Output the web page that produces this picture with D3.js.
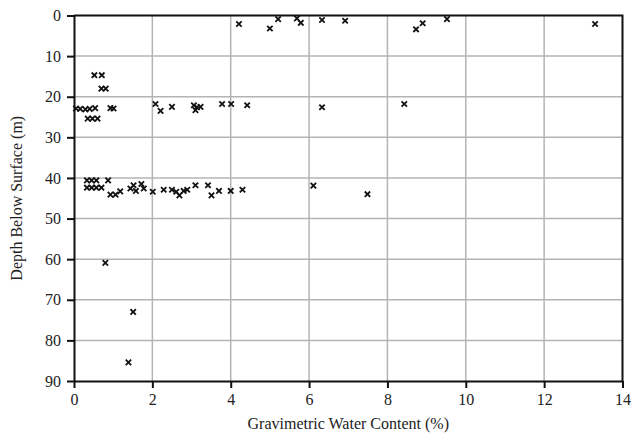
<!DOCTYPE html>
<html>
<head>
<meta charset="utf-8">
<script src="https://cdn.jsdelivr.net/npm/d3@7"></script>
<style>
  body { margin: 0; background: #fff; }
  text { font-family: "Liberation Serif", "Times New Roman", serif; fill: #222; }
</style>
</head>
<body>
<div class="scatterPlot"></div>
<script>
// gravimetric water content (%) and depth (m) for each sample
var waterContent = [
   4.21, 5.0, 5.21, 5.69, 5.79, 6.33, 6.92, 8.73, 8.90, 9.52, 13.30,
   0.52, 0.71, 0.70, 0.81,
   0.05, 0.16, 0.29, 0.40, 0.54, 0.93, 1.01,
   0.35, 0.47, 0.60,
   2.08, 2.21, 2.50, 3.06, 3.14, 3.10, 3.23, 3.78, 4.01, 4.42, 6.33, 8.43,
   0.33, 0.45, 0.57, 0.87,
   0.33, 0.45, 0.57, 0.70,
   0.93, 1.06, 1.18,
   1.44, 1.52, 1.58, 1.72, 1.78, 2.01,
   2.29, 2.50, 2.61, 2.69, 2.80, 2.89,
   3.10, 3.42, 3.51, 3.70, 4.00, 4.30,
   6.11, 7.49,
   0.80, 1.51, 1.39
];
var depth = [
   2.1, 3.2, 0.9, 0.7, 1.8, 1.1, 1.3, 3.4, 1.9, 0.9, 2.1,
   14.7, 14.7, 18.0, 18.0,
   22.9, 23.0, 23.1, 23.0, 22.8, 22.8, 22.9,
   25.4, 25.4, 25.4,
   21.8, 23.5, 22.5, 22.1, 22.6, 23.3, 22.5, 21.8, 21.8, 22.1, 22.6, 21.8,
   40.6, 40.6, 40.6, 40.6,
   42.4, 42.4, 42.4, 42.4,
   44.1, 44.1, 43.3,
   42.6, 41.8, 43.2, 41.5, 42.6, 43.4,
   42.9, 42.9, 43.4, 44.3, 43.2, 42.9,
   41.8, 41.8, 44.3, 43.2, 43.2, 42.9,
   41.9, 44.0,
   60.9, 73.0, 85.4
];
var xTicks = [0, 2, 4, 6, 8, 10, 12, 14];
var yTicks = [0, 10, 20, 30, 40, 50, 60, 70, 80, 90];

var width = 633, height = 439;
const margin = { top: 15.5, right: 10.5, bottom: 58, left: 74 };

var svg = d3.select(".scatterPlot").append("svg")
   .attr("width", width)
   .attr("height", height);

var x = d3.scaleLinear()
   .domain([0, 14])
   .range([margin.left, width - margin.right]);

var y = d3.scaleLinear()
   .domain([0, 90])
   .range([margin.top, height - margin.bottom]);

// grid
svg.append("g").selectAll("line.vgrid")
   .data(xTicks.slice(1, -1))
   .enter().append("line")
   .attr("x1", d => x(d)).attr("x2", d => x(d))
   .attr("y1", y(0)).attr("y2", y(90))
   .style("stroke", "#b4b4b4")
   .style("stroke-width", 1.5);

svg.append("g").selectAll("line.hgrid")
   .data(yTicks.slice(1, -1))
   .enter().append("line")
   .attr("x1", x(0)).attr("x2", x(14))
   .attr("y1", d => y(d)).attr("y2", d => y(d))
   .style("stroke", "#b4b4b4")
   .style("stroke-width", 1.5);

// frame: top and right edges
svg.append("path")
   .attr("d", `M${x(0)},${y(0)}H${x(14)}V${y(90)}`)
   .style("fill", "none")
   .style("stroke", "#111")
   .style("stroke-width", 2);

var xAxis = d3.axisBottom(x)
   .tickValues(xTicks)
   .tickSize(7)
   .tickSizeOuter(0)
   .tickPadding(6)
   .tickFormat(d3.format("d"));

var yAxis = d3.axisLeft(y)
   .tickValues(yTicks)
   .tickSize(7)
   .tickSizeOuter(0)
   .tickPadding(6)
   .tickFormat(d3.format("d"));

var gx = svg.append("g")
   .attr("transform", `translate(0, ${y(90)})`)
   .call(xAxis);

var gy = svg.append("g")
   .attr("transform", `translate(${x(0)}, 0)`)
   .call(yAxis);

[gx, gy].forEach(g => {
   g.select(".domain").style("stroke", "#111").style("stroke-width", 2);
   g.selectAll(".tick line").style("stroke", "#111").style("stroke-width", 2);
   g.selectAll(".tick text")
      .style("font-family", "'Liberation Serif', serif")
      .style("font-size", "16px")
      .style("fill", "#222");
});

// x marks
var points = waterContent.map((d, i) => ({ w: d, z: depth[i] }));
var s = 2.7;

svg.append("g").selectAll("path.mark")
   .data(points)
   .enter().append("path")
   .attr("class", "mark")
   .attr("d", d => {
      let cx = x(d.w), cy = y(d.z);
      return `M${cx - s},${cy - s}L${cx + s},${cy + s}M${cx - s},${cy + s}L${cx + s},${cy - s}`;
   })
   .style("stroke", "#111")
   .style("stroke-width", 1.8);

// titles
svg.append("text")
   .attr("x", (x(0) + x(14)) / 2)
   .attr("y", 429)
   .style("text-anchor", "middle")
   .style("font-size", "16px")
   .text("Gravimetric Water Content (%)");

svg.append("text")
   .attr("transform", `translate(22, ${(y(0) + y(90)) / 2}) rotate(-90)`)
   .style("text-anchor", "middle")
   .style("font-size", "16px")
   .text("Depth Below Surface (m)");
</script>
</body>
</html>
